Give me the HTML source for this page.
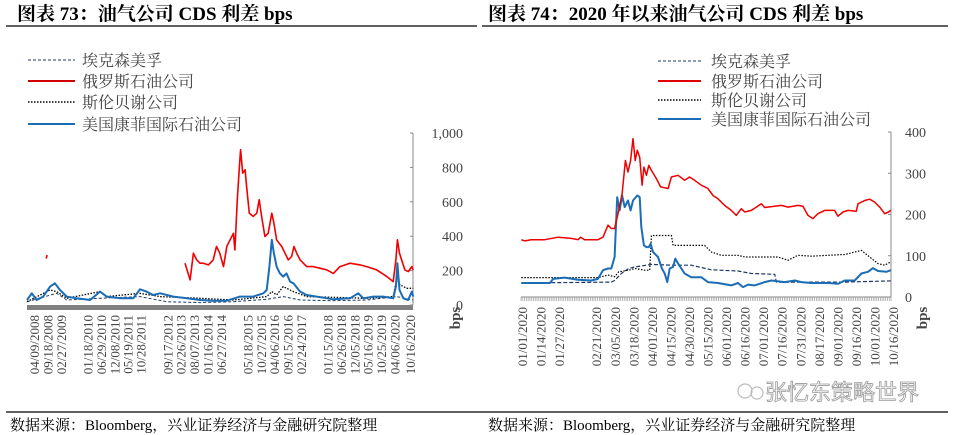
<!DOCTYPE html>
<html><head><meta charset="utf-8">
<style>
html,body{margin:0;padding:0;background:#fff;}
body{width:956px;height:435px;overflow:hidden;position:relative;font-family:"Liberation Serif","Noto Serif CJK SC",serif;}
svg{position:absolute;left:0;top:0;}
</style></head>
<body>
<svg id="c" width="956" height="435" viewBox="0 0 956 435" xmlns="http://www.w3.org/2000/svg">
  <text x="17" y="20" font-size="19" font-weight="bold" fill="#000" font-family="Liberation Serif, Noto Serif CJK SC, serif">图表 73：油气公司 CDS 利差 bps</text>
  <line x1="6" y1="26" x2="477" y2="26" stroke="#000" stroke-width="1.3"/>
  <text x="488" y="20" font-size="19" font-weight="bold" fill="#000" font-family="Liberation Serif, Noto Serif CJK SC, serif">图表 74：2020 年以来油气公司 CDS 利差 bps</text>
  <line x1="482" y1="26" x2="948" y2="26" stroke="#000" stroke-width="1.3"/>

  <g id="legL">
    <line x1="28" y1="60" x2="75" y2="60" stroke="#1f3864" stroke-width="1" stroke-dasharray="3,2"/>
    <text x="82" y="66" font-size="16" fill="#444">埃克森美孚</text>
    <line x1="28" y1="81" x2="75" y2="81" stroke="#d00000" stroke-width="2"/>
    <text x="82" y="87" font-size="16" fill="#444">俄罗斯石油公司</text>
    <line x1="28" y1="102" x2="75" y2="102" stroke="#000" stroke-width="1.5" stroke-dasharray="1.5,1.5"/>
    <text x="82" y="108" font-size="16" fill="#444">斯伦贝谢公司</text>
    <line x1="28" y1="124" x2="75" y2="124" stroke="#1b6db5" stroke-width="2"/>
    <text x="82" y="130" font-size="16" fill="#444">美国康菲国际石油公司</text>
  </g>
  <g id="legR">
    <line x1="658" y1="61" x2="701" y2="61" stroke="#1f3864" stroke-width="1" stroke-dasharray="3,2"/>
    <text x="711" y="67" font-size="16" fill="#444">埃克森美孚</text>
    <line x1="658" y1="81" x2="701" y2="81" stroke="#e00000" stroke-width="2"/>
    <text x="711" y="87" font-size="16" fill="#444">俄罗斯石油公司</text>
    <line x1="658" y1="100" x2="701" y2="100" stroke="#000" stroke-width="1.5" stroke-dasharray="1.5,1.5"/>
    <text x="711" y="106" font-size="16" fill="#444">斯伦贝谢公司</text>
    <line x1="658" y1="119" x2="701" y2="119" stroke="#1b6db5" stroke-width="2"/>
    <text x="711" y="125" font-size="16" fill="#444">美国康菲国际石油公司</text>
  </g>

  <g>
    <circle cx="745" cy="391" r="7" fill="none" stroke="#bbb" stroke-width="1.2"/>
    <circle cx="757" cy="393" r="6" fill="none" stroke="#bbb" stroke-width="1.2"/>
    <text x="765" y="400" font-size="22" fill="#fff" stroke="#999" stroke-width="0.8" font-family="Noto Sans CJK SC, sans-serif">张忆东策略世界</text>
  </g>

  <line x1="6" y1="412" x2="948" y2="412" stroke="#000" stroke-width="1.3"/>
  <text x="10" y="430" font-size="15" fill="#000">数据来源：Bloomberg，兴业证券经济与金融研究院整理</text>
  <text x="488" y="430" font-size="15" fill="#000">数据来源：Bloomberg，兴业证券经济与金融研究院整理</text>
  <g id="L"></g>
  <g id="R"></g>
</svg>
<script>
// ---------- LEFT CHART DATA (x in fractional years) ----------
const leftYTicks = [0, 200, 400, 600, 800, 1000];
const leftYTickLabels = ["0", "200", "400", "600", "800", "1,000"];
const leftDates = [2008.27, 2008.72, 2009.16, 2010.05, 2010.49, 2010.94, 2011.38, 2011.82, 2012.71, 2013.15, 2013.60, 2014.04, 2014.49, 2015.38, 2015.82, 2016.26, 2016.71, 2017.15, 2018.04, 2018.48, 2018.93, 2019.37, 2019.82, 2020.26, 2020.79];
const leftDateLabels = ["04/09/2008","09/18/2008","02/27/2009","01/18/2010","06/29/2010","12/08/2010","05/19/2011","10/28/2011","09/17/2012","02/26/2013","08/07/2013","01/16/2014","06/27/2014","05/18/2015","10/27/2015","04/06/2016","09/15/2016","02/24/2017","01/15/2018","06/26/2018","12/05/2018","05/16/2019","10/25/2019","04/06/2020","10/16/2020"];
const leftRosneftStubX = [2008.64, 2008.67];
const leftRosneftStubY = [270, 290];
const leftRosneftX = [2013.26,2013.43,2013.54,2013.65,2013.76,2013.87,2014.04,2014.20,2014.31,2014.42,2014.54,2014.65,2014.76,2014.87,2014.92,2015.00,2015.07,2015.11,2015.18,2015.26,2015.31,2015.40,2015.53,2015.65,2015.73,2015.81,2015.92,2016.03,2016.15,2016.22,2016.31,2016.48,2016.59,2016.70,2016.81,2016.89,2016.98,2017.09,2017.31,2017.53,2017.75,2017.98,2018.20,2018.42,2018.75,2019.09,2019.31,2019.64,2019.98,2020.19,2020.28,2020.33,2020.40,2020.47,2020.58,2020.69,2020.81,2020.86];
const leftRosneftY = [243,146,301,262,243,243,233,262,340,301,223,340,379,417,320,612,806,903,767,786,689,534,515,534,612,515,398,417,534,476,379,340,301,262,282,340,301,262,223,223,214,204,184,223,243,233,223,204,165,136,262,379,301,262,204,194,223,204];
const leftConocoX = [2008.0,2008.16,2008.32,2008.54,2008.77,2008.93,2009.10,2009.32,2009.65,2010.10,2010.43,2010.65,2011.10,2011.54,2011.76,2011.98,2012.20,2012.43,2012.87,2013.32,2013.76,2014.20,2014.65,2015.09,2015.53,2015.87,2015.98,2016.07,2016.15,2016.22,2016.31,2016.42,2016.53,2016.64,2016.76,2016.87,2017.09,2017.31,2017.64,2018.20,2018.75,2019.03,2019.20,2019.53,2019.86,2020.19,2020.28,2020.33,2020.40,2020.53,2020.69,2020.81,2020.86];
const leftConocoY = [29,68,29,49,107,126,87,49,39,29,78,49,39,39,91,78,58,68,49,39,29,25,25,49,49,68,87,223,379,301,223,184,165,184,136,126,78,58,49,33,39,68,39,49,49,39,107,243,87,39,29,78,49];
const leftHessX = [2008.0,2008.77,2008.99,2009.32,2010.43,2010.65,2011.76,2012.43,2013.76,2014.87,2015.98,2016.15,2016.31,2016.53,2016.87,2017.31,2018.20,2019.31,2020.19,2020.31,2020.42,2020.64,2020.86];
const leftHessY = [19,87,78,39,78,49,68,49,39,29,49,78,58,107,78,49,45,39,49,155,117,97,97];
const leftExxonX = [2008.0,2008.99,2009.32,2010.43,2011.76,2012.65,2013.76,2014.87,2015.98,2016.53,2017.09,2018.20,2019.31,2020.31,2020.86];
const leftExxonY = [19,68,29,39,49,19,14,19,33,49,29,25,29,49,29];

// ---------- RIGHT CHART DATA (x in date-slot units) ----------
const rightYTicks = [0, 100, 200, 300, 400];
const rightSlots = [0,1,2,4,5,6,7,8,9,10,11,12,13,14,15,16,17,18,19,20];
const rightDateLabels = ["01/01/2020","01/14/2020","01/27/2020","02/21/2020","03/05/2020","03/18/2020","04/01/2020","04/15/2020","04/30/2020","05/15/2020","06/01/2020","06/16/2020","07/01/2020","07/16/2020","07/31/2020","08/17/2020","09/01/2020","09/16/2020","10/01/2020","10/16/2020"];
const rightRosneftX = [-0.09,0.09,0.45,1.17,1.89,2.61,2.96,3.11,3.32,4.04,4.31,4.58,4.76,4.94,5.12,5.34,5.52,5.66,5.80,5.93,6.05,6.16,6.29,6.42,6.52,6.65,6.78,6.92,7.19,7.42,7.82,8.00,8.36,8.71,8.98,9.25,9.61,9.97,10.24,10.51,10.87,11.23,11.50,11.77,11.95,12.31,12.85,13.03,13.57,13.93,14.29,14.82,15.09,15.36,15.63,15.90,16.26,16.80,16.98,17.25,17.52,17.97,18.06,18.42,18.69,18.96,19.23,19.50,19.71,19.82];
const rightRosneftY = [139,136,139,139,145,142,139,145,139,139,145,174,166,166,202,250,331,303,331,384,331,356,339,271,315,295,319,307,287,267,263,291,295,283,291,283,271,263,246,238,222,210,198,214,206,210,226,217,220,222,218,222,220,198,190,202,210,210,196,206,210,208,226,234,237,230,218,202,206,210];
const rightConocoX = [-0.09,1.17,1.45,1.63,2.25,2.96,3.68,4.04,4.31,4.58,4.76,4.94,5.08,5.21,5.34,5.48,5.66,5.80,5.93,6.16,6.29,6.38,6.52,6.65,6.78,6.88,7.01,7.28,7.49,7.64,7.78,7.91,8.09,8.21,8.36,8.71,9.07,9.61,9.97,10.51,11.23,11.59,11.86,12.13,12.49,13.03,13.39,14.11,14.65,15.00,15.54,16.44,16.98,17.34,17.88,18.24,18.60,18.87,19.14,19.59,19.82];
const rightConocoY = [34,34,34,44,47,42,40,44,65,69,69,97,242,210,246,218,234,210,234,246,242,170,125,121,121,129,109,97,69,57,36,69,73,93,81,57,48,48,36,34,28,34,24,30,28,36,40,36,40,36,34,34,32,40,40,57,61,70,63,61,65];
const rightHessX = [-0.09,4.04,4.58,4.94,5.16,5.70,6.05,6.56,6.83,6.92,8.00,8.09,9.79,10.15,10.69,11.59,11.95,13.75,14.29,14.82,15.54,16.44,17.34,18.24,18.69,19.14,19.50,19.82];
const rightHessY = [47,47,53,49,61,65,69,65,65,149,149,125,125,109,101,101,97,97,89,101,99,101,103,113,97,81,77,85];
const rightExxonX = [-0.09,4.76,4.94,5.30,5.70,6.05,6.92,8.00,9.07,10.15,11.59,12.31,13.57,13.66,15.54,17.34,19.82];
const rightExxonY = [34,36,40,57,69,73,79,77,77,66,63,57,55,36,36,36,39];

const NS = "http://www.w3.org/2000/svg";
function mk(parent, tag, attrs){
  const e = document.createElementNS(NS, tag);
  for (const k in attrs) e.setAttribute(k, attrs[k]);
  parent.appendChild(e);
  return e;
}
const lx = v => 27 + (v - 2008.0) * (413 - 27) / (2020.85 - 2008.0);
const ly = v => 305 - v * 172 / 1000;
const rx = s => 523 + s * 18.55;
const ry = v => 297 - v * 165 / 400;

function pathD(xs, ys, fx, fy){
  return xs.map((x,i)=> (i?"L":"M") + fx(x).toFixed(1) + "," + fy(ys[i]).toFixed(1)).join(" ");
}

const L = document.getElementById("L");
const R = document.getElementById("R");

let ax = mk(L, "line", {x1:413,y1:133,x2:413,y2:305,stroke:"#888","stroke-width":1});


let band = mk(L, "rect", {x:27,y:305,width:386,height:5,fill:"#808080"});


leftYTicks.forEach((v,i)=>{
  const t = mk(L, "line", {x1:410,y1:ly(v),x2:413,y2:ly(v),stroke:"#888","stroke-width":1});
  
  
  const tx = mk(L, "text", {x:463,y:ly(v)+5,"font-size":14,fill:"#444","text-anchor":"end"});
  tx.textContent = leftYTickLabels[i];
  
  
});
leftDates.forEach((d,i)=>{
  const x = lx(d);
  const tx = mk(L, "text", {transform:`translate(${(x+4).toFixed(1)},315) rotate(-90)`,"font-size":13,fill:"#444","text-anchor":"end"});
  tx.textContent = leftDateLabels[i];
  
  
});
let bl = mk(L, "text", {transform:"translate(460,318) rotate(-90)","font-size":15,"font-weight":"bold",fill:"#444","text-anchor":"middle"});
bl.textContent = "bps";



function series(g, xs, ys, fx, fy, stroke, w, dash, name){
  const p = mk(g, "path", {d:pathD(xs,ys,fx,fy),fill:"none",stroke:stroke,"stroke-width":w,"stroke-linejoin":"round"});
  if (dash) p.setAttribute("stroke-dasharray", dash);
  
  
}
series(L, leftExxonX, leftExxonY, lx, ly, "#1f3864", 1, "3,2", "left-line-exxon");
series(L, leftHessX, leftHessY, lx, ly, "#000", 1.3, "1.5,1.5", "left-line-hess");
series(L, leftConocoX, leftConocoY, lx, ly, "#1b6db5", 2, null, "left-line-conoco");
series(L, leftRosneftStubX, leftRosneftStubY, lx, ly, "#f00000", 1.6, null, "left-line-rosneft-early");
series(L, leftRosneftX, leftRosneftY, lx, ly, "#f00000", 1.6, null, "left-line-rosneft");

ax = mk(R, "line", {x1:891,y1:132,x2:891,y2:297,stroke:"#888","stroke-width":1});


let xa = mk(R, "line", {x1:521,y1:297,x2:891,y2:297,stroke:"#888","stroke-width":1});


for (let s = 0; s <= 208; s++){
  const x = 521 + s * 370/208;
  const t = mk(R, "line", {x1:x.toFixed(1),y1:297,x2:x.toFixed(1),y2:301,stroke:"#999","stroke-width":0.7});
  
  
}
rightYTicks.forEach(v=>{
  const t = mk(R, "line", {x1:888,y1:ry(v),x2:891,y2:ry(v),stroke:"#888","stroke-width":1});
  
  
  const tx = mk(R, "text", {x:905,y:ry(v)+5,"font-size":14,fill:"#444"});
  tx.textContent = String(v);
  
  
});
rightSlots.forEach((s,i)=>{
  const x = rx(s);
  const tx = mk(R, "text", {transform:`translate(${(x+4).toFixed(1)},307) rotate(-90)`,"font-size":13,fill:"#444","text-anchor":"end"});
  tx.textContent = rightDateLabels[i];
  
  
});
bl = mk(R, "text", {transform:"translate(927,318) rotate(-90)","font-size":15,"font-weight":"bold",fill:"#444","text-anchor":"middle"});
bl.textContent = "bps";



series(R, rightExxonX, rightExxonY, rx, ry, "#1f3864", 1.2, "4,2", "right-line-exxon");
series(R, rightHessX, rightHessY, rx, ry, "#000", 1.2, "1.5,1.5", "right-line-hess");
series(R, rightConocoX, rightConocoY, rx, ry, "#1b6db5", 2, null, "right-line-conoco");
series(R, rightRosneftX, rightRosneftY, rx, ry, "#ee0000", 1.5, null, "right-line-rosneft");
</script>
</body></html>
